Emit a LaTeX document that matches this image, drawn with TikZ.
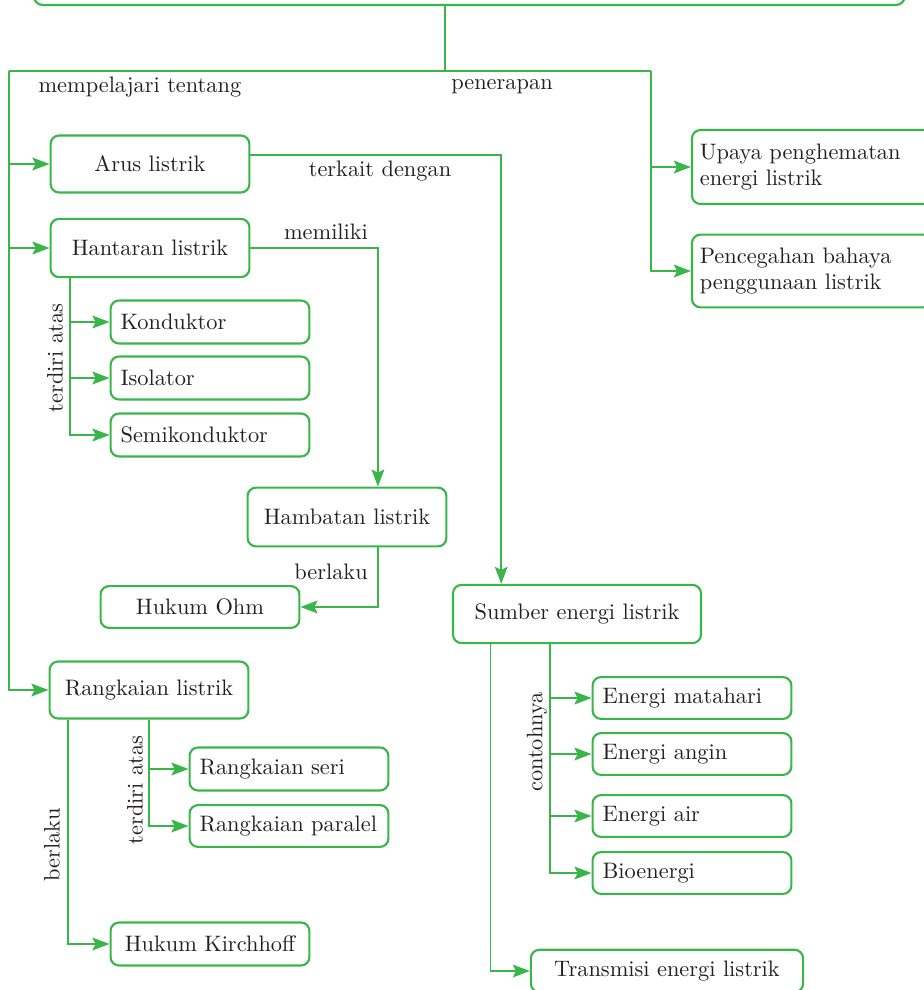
\documentclass[tikz,border=0pt]{standalone}
\usepackage{xcolor}
\usepackage{tikz}
\usetikzlibrary{arrows.meta}

\definecolor{hijau}{RGB}{57,181,74}
\definecolor{teks}{RGB}{35,31,32}

\begin{document}
\begin{tikzpicture}[
        x=0.0165cm, y=-0.0165cm,
        every node/.style={text=teks, font=\fontsize{10.5}{12.5}\selectfont},
        box/.style={rectangle, draw=hijau, line width=1pt, rounded corners=4pt, minimum width=3.28cm, align=center},
        kiribox/.style={box, text width=2.95cm, inner xsep=0.165cm, align=left},
        label/.style={inner sep=1pt},
        arrow/.style={-{Stealth[length=8pt, width=6pt, inset=1.5pt]}, draw=hijau, line width=0.75pt},
        garis/.style={draw=hijau, line width=0.75pt}
    ]
    \useasboundingbox (0,0) rectangle (924,990);
    \clip (0,0) rectangle (924,990);

    % judul (terpotong di atas)
    \node[box, minimum width=14.36cm, minimum height=1.5cm, anchor=south west] (judul) at (33,6) {};
    \coordinate (cabang) at (445,71);
    \coordinate (kiri) at (9,71);
    \coordinate (kanan) at (651,71);

    % kolom kiri
    \node[box, minimum height=0.94cm] (arus) at (150,164) {Arus listrik};
    \node[box, minimum height=0.96cm] (hantaran) at (150,248) {Hantaran listrik};
    \node[kiribox, minimum height=0.71cm] (konduktor) at (210,322) {Konduktor};
    \node[kiribox, minimum height=0.71cm] (isolator) at (210,378) {Isolator};
    \node[kiribox, minimum height=0.71cm] (semikonduktor) at (210,435) {Semikonduktor};
    \node[box, minimum height=0.97cm] (hambatan) at (347,517) {Hambatan listrik};
    \node[box, minimum height=0.69cm] (ohm) at (200,607) {Hukum Ohm};
    \node[box, minimum height=0.94cm] (rangkaian) at (149,690) {Rangkaian listrik};
    \node[kiribox, minimum height=0.71cm] (seri) at (289,769) {Rangkaian seri};
    \node[kiribox, minimum height=0.69cm] (paralel) at (289,826) {Rangkaian paralel};
    \node[box, minimum height=0.71cm] (kirchhoff) at (210,944) {Hukum Kirchhoff};

    % kolom kanan
    \node[box, minimum width=4.09cm, minimum height=0.96cm] (sumber) at (577,614) {Sumber energi listrik};
    \node[kiribox, minimum height=0.69cm] (matahari) at (692,698) {Energi matahari};
    \node[kiribox, minimum height=0.69cm] (angin) at (692,754) {Energi angin};
    \node[kiribox, minimum height=0.69cm] (air) at (692,816) {Energi air};
    \node[kiribox, minimum height=0.69cm] (bio) at (692,873) {Bioenergi};
    \node[box, minimum width=4.49cm, minimum height=0.7cm] (transmisi) at (667,971) {Transmisi energi listrik};
    \node[box, minimum width=3.96cm, minimum height=1.22cm, text width=3.7cm, inner xsep=0.13cm, align=left] (upaya) at (812,167) {Upaya penghematan\\energi listrik};
    \node[box, minimum width=3.96cm, minimum height=1.2cm, text width=3.7cm, inner xsep=0.13cm, align=left] (cegah) at (812,271) {Pencegahan bahaya\\penggunaan listrik};

    % label
    \node[label, anchor=west] (lbpelajari) at (36,87) {mempelajari tentang};
    \node[label] (lbterap) at (502,87) {penerapan};
    \node[label] (lbterkait) at (380,171) {terkait dengan};
    \node[label] (lbmilik) at (326,232) {memiliki};
    \node[label] (lbberlaku) at (331,572) {berlaku};
    \node[label, rotate=90] (lbterdiri) at (55,358) {terdiri atas};
    \node[label, rotate=90] (lbterdiri2) at (135,790) {terdiri atas};
    \node[label, rotate=90] (lbberlaku2) at (52,845) {berlaku};
    \node[label, rotate=90] (lbcontoh) at (537,742) {contohnya};

    % cabang utama
    \draw[garis] (judul.south -| cabang) -- (cabang);
    \draw[garis] (kiri) -- (kanan);
    \draw[arrow] (kiri) |- (rangkaian.west);
    \draw[arrow] (kiri |- arus.west) -- (arus.west);
    \draw[arrow] (kiri |- hantaran.west) -- (hantaran.west);
    \draw[arrow] (kanan) |- (cegah.west);
    \draw[arrow] (kanan |- upaya.west) -- (upaya.west);

    % hubungan antar konsep
    \draw[arrow] ([yshift=0.15cm]arus.east) -| ([xshift=-1.25cm]sumber.north);
    \draw[arrow] (hantaran.east) -| ([xshift=0.51cm]hambatan.north);
    \draw[arrow] ([xshift=0.51cm]hambatan.south) |- (ohm.east);

    % hantaran listrik
    \draw[arrow] ([xshift=-1.32cm]hantaran.south) |- (semikonduktor.west);
    \draw[arrow] ([xshift=-1.32cm]hantaran.south |- konduktor.west) -- (konduktor.west);
    \draw[arrow] ([xshift=-1.32cm]hantaran.south |- isolator.west) -- (isolator.west);

    % rangkaian listrik
    \draw[arrow] (rangkaian.south) |- (paralel.west);
    \draw[arrow] (rangkaian.south |- seri.west) -- (seri.west);
    \draw[arrow] ([xshift=-1.34cm]rangkaian.south) |- (kirchhoff.west);

    % sumber energi listrik
    \draw[arrow] ([xshift=-0.45cm]sumber.south) |- (bio.west);
    \draw[arrow] ([xshift=-0.45cm]sumber.south |- matahari.west) -- (matahari.west);
    \draw[arrow] ([xshift=-0.45cm]sumber.south |- angin.west) -- (angin.west);
    \draw[arrow] ([xshift=-0.45cm]sumber.south |- air.west) -- (air.west);
    \draw[arrow] ([xshift=-1.425cm]sumber.south) |- (transmisi.west);

\end{tikzpicture}
\end{document}
